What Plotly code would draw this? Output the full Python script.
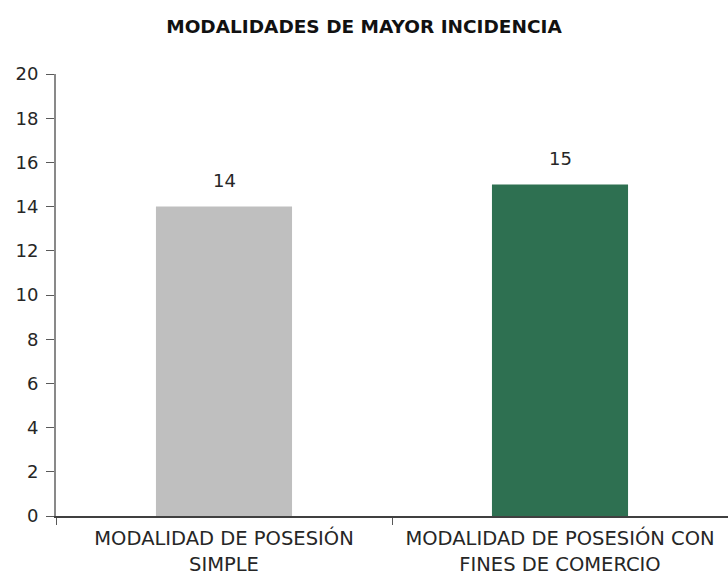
import plotly.graph_objects as go

categories = ["MODALIDAD DE POSESIÓN<br>SIMPLE", "MODALIDAD DE POSESIÓN CON<br>FINES DE COMERCIO"]
values = [14, 15]
colors = ["#BFBFBF", "#2E7051"]
y_ticks = list(range(0, 21, 2))

FONT = "DejaVu Sans"

fig = go.Figure()
fig.add_trace(go.Bar(x=categories, y=values, marker=dict(color=colors, line=dict(width=0)),
                     width=0.405, hoverinfo="skip"))
for c, v in zip(categories, values):
    fig.add_annotation(x=c, y=v, text=str(v), showarrow=False, yanchor="bottom", yshift=14,
                       font=dict(family=FONT, size=18, color="#262626"))

fig.update_layout(
    width=728, height=580,
    margin=dict(l=56, r=0, t=74, b=64),
    paper_bgcolor="white", plot_bgcolor="white",
    showlegend=False,
    title=dict(text="<b>MODALIDADES DE MAYOR INCIDENCIA</b>", x=0.5, xanchor="center",
               y=1 - 27/580, yanchor="middle",
               font=dict(family=FONT, size=18.5, color="#111111")),
    font=dict(family=FONT, size=19, color="#262626"),
)
fig.update_xaxes(type="category", tickson="boundaries", ticks="outside", ticklen=7,
                 tickcolor="#595959", showline=True, linecolor="#404040", linewidth=1.5,
                 showgrid=False, automargin=False, ticklabelstandoff=4,
                 tickfont=dict(family=FONT, size=19.5, color="#262626"))
fig.update_yaxes(range=[0, 20], tickvals=y_ticks, ticks="outside", ticklen=8,
                 tickcolor="#595959", showline=True, linecolor="#898989", linewidth=2,
                 showgrid=False, zeroline=False, ticklabelstandoff=4, automargin=False,
                 tickfont=dict(family=FONT, size=18, color="#262626"))

fig.write_html("out.html", config={"displayModeBar": False},
               post_script="document.body.style.margin='0';document.body.style.padding='0';")
